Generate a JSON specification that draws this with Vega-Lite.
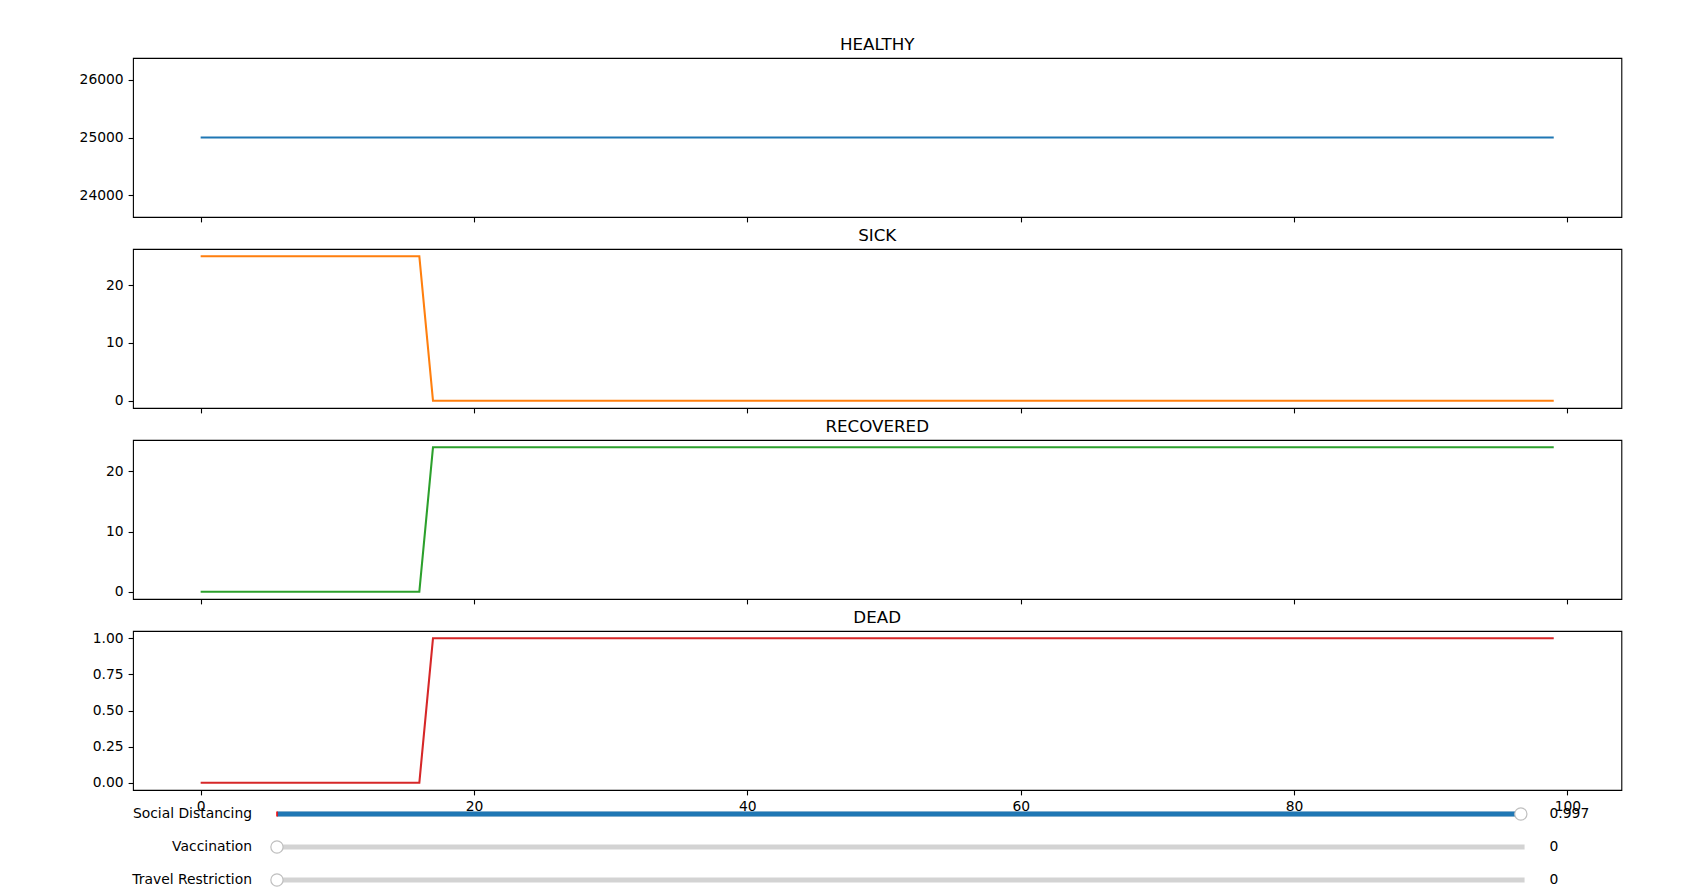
{
  "$schema": "https://vega.github.io/schema/vega-lite/v6.json",
  "background": "white",
  "padding": {"left": 78, "top": 36, "right": 20, "bottom": 0},
  "config": {
    "font": "DejaVu Sans",
    "view": {"stroke": "black", "strokeWidth": 1.1},
    "axis": {
      "domain": false, "grid": false, "tickColor": "black", "tickWidth": 1.1, "tickSize": 4.9,
      "labelFont": "DejaVu Sans", "labelFontSize": 13.9, "labelColor": "black", "labelPadding": 4.9,
      "labelOverlap": false, "labelFlush": false, "labelBound": false
    },
    "title": {"font": "DejaVu Sans", "fontSize": 16.7, "fontWeight": "normal", "color": "black", "anchor": "middle", "frame": "group", "baseline": "alphabetic", "offset": 4}
  },
  "datasets": {
    "series": [
      {"t":0,"h":25000,"s":25,"r":0,"d":0},{"t":1,"h":25000,"s":25,"r":0,"d":0},{"t":2,"h":25000,"s":25,"r":0,"d":0},{"t":3,"h":25000,"s":25,"r":0,"d":0},{"t":4,"h":25000,"s":25,"r":0,"d":0},
      {"t":5,"h":25000,"s":25,"r":0,"d":0},{"t":6,"h":25000,"s":25,"r":0,"d":0},{"t":7,"h":25000,"s":25,"r":0,"d":0},{"t":8,"h":25000,"s":25,"r":0,"d":0},{"t":9,"h":25000,"s":25,"r":0,"d":0},
      {"t":10,"h":25000,"s":25,"r":0,"d":0},{"t":11,"h":25000,"s":25,"r":0,"d":0},{"t":12,"h":25000,"s":25,"r":0,"d":0},{"t":13,"h":25000,"s":25,"r":0,"d":0},{"t":14,"h":25000,"s":25,"r":0,"d":0},
      {"t":15,"h":25000,"s":25,"r":0,"d":0},{"t":16,"h":25000,"s":25,"r":0,"d":0},{"t":17,"h":25000,"s":0,"r":24,"d":1},{"t":18,"h":25000,"s":0,"r":24,"d":1},{"t":19,"h":25000,"s":0,"r":24,"d":1},
      {"t":20,"h":25000,"s":0,"r":24,"d":1},{"t":21,"h":25000,"s":0,"r":24,"d":1},{"t":22,"h":25000,"s":0,"r":24,"d":1},{"t":23,"h":25000,"s":0,"r":24,"d":1},{"t":24,"h":25000,"s":0,"r":24,"d":1},
      {"t":25,"h":25000,"s":0,"r":24,"d":1},{"t":26,"h":25000,"s":0,"r":24,"d":1},{"t":27,"h":25000,"s":0,"r":24,"d":1},{"t":28,"h":25000,"s":0,"r":24,"d":1},{"t":29,"h":25000,"s":0,"r":24,"d":1},
      {"t":30,"h":25000,"s":0,"r":24,"d":1},{"t":31,"h":25000,"s":0,"r":24,"d":1},{"t":32,"h":25000,"s":0,"r":24,"d":1},{"t":33,"h":25000,"s":0,"r":24,"d":1},{"t":34,"h":25000,"s":0,"r":24,"d":1},
      {"t":35,"h":25000,"s":0,"r":24,"d":1},{"t":36,"h":25000,"s":0,"r":24,"d":1},{"t":37,"h":25000,"s":0,"r":24,"d":1},{"t":38,"h":25000,"s":0,"r":24,"d":1},{"t":39,"h":25000,"s":0,"r":24,"d":1},
      {"t":40,"h":25000,"s":0,"r":24,"d":1},{"t":41,"h":25000,"s":0,"r":24,"d":1},{"t":42,"h":25000,"s":0,"r":24,"d":1},{"t":43,"h":25000,"s":0,"r":24,"d":1},{"t":44,"h":25000,"s":0,"r":24,"d":1},
      {"t":45,"h":25000,"s":0,"r":24,"d":1},{"t":46,"h":25000,"s":0,"r":24,"d":1},{"t":47,"h":25000,"s":0,"r":24,"d":1},{"t":48,"h":25000,"s":0,"r":24,"d":1},{"t":49,"h":25000,"s":0,"r":24,"d":1},
      {"t":50,"h":25000,"s":0,"r":24,"d":1},{"t":51,"h":25000,"s":0,"r":24,"d":1},{"t":52,"h":25000,"s":0,"r":24,"d":1},{"t":53,"h":25000,"s":0,"r":24,"d":1},{"t":54,"h":25000,"s":0,"r":24,"d":1},
      {"t":55,"h":25000,"s":0,"r":24,"d":1},{"t":56,"h":25000,"s":0,"r":24,"d":1},{"t":57,"h":25000,"s":0,"r":24,"d":1},{"t":58,"h":25000,"s":0,"r":24,"d":1},{"t":59,"h":25000,"s":0,"r":24,"d":1},
      {"t":60,"h":25000,"s":0,"r":24,"d":1},{"t":61,"h":25000,"s":0,"r":24,"d":1},{"t":62,"h":25000,"s":0,"r":24,"d":1},{"t":63,"h":25000,"s":0,"r":24,"d":1},{"t":64,"h":25000,"s":0,"r":24,"d":1},
      {"t":65,"h":25000,"s":0,"r":24,"d":1},{"t":66,"h":25000,"s":0,"r":24,"d":1},{"t":67,"h":25000,"s":0,"r":24,"d":1},{"t":68,"h":25000,"s":0,"r":24,"d":1},{"t":69,"h":25000,"s":0,"r":24,"d":1},
      {"t":70,"h":25000,"s":0,"r":24,"d":1},{"t":71,"h":25000,"s":0,"r":24,"d":1},{"t":72,"h":25000,"s":0,"r":24,"d":1},{"t":73,"h":25000,"s":0,"r":24,"d":1},{"t":74,"h":25000,"s":0,"r":24,"d":1},
      {"t":75,"h":25000,"s":0,"r":24,"d":1},{"t":76,"h":25000,"s":0,"r":24,"d":1},{"t":77,"h":25000,"s":0,"r":24,"d":1},{"t":78,"h":25000,"s":0,"r":24,"d":1},{"t":79,"h":25000,"s":0,"r":24,"d":1},
      {"t":80,"h":25000,"s":0,"r":24,"d":1},{"t":81,"h":25000,"s":0,"r":24,"d":1},{"t":82,"h":25000,"s":0,"r":24,"d":1},{"t":83,"h":25000,"s":0,"r":24,"d":1},{"t":84,"h":25000,"s":0,"r":24,"d":1},
      {"t":85,"h":25000,"s":0,"r":24,"d":1},{"t":86,"h":25000,"s":0,"r":24,"d":1},{"t":87,"h":25000,"s":0,"r":24,"d":1},{"t":88,"h":25000,"s":0,"r":24,"d":1},{"t":89,"h":25000,"s":0,"r":24,"d":1},
      {"t":90,"h":25000,"s":0,"r":24,"d":1},{"t":91,"h":25000,"s":0,"r":24,"d":1},{"t":92,"h":25000,"s":0,"r":24,"d":1},{"t":93,"h":25000,"s":0,"r":24,"d":1},{"t":94,"h":25000,"s":0,"r":24,"d":1},
      {"t":95,"h":25000,"s":0,"r":24,"d":1},{"t":96,"h":25000,"s":0,"r":24,"d":1},{"t":97,"h":25000,"s":0,"r":24,"d":1},{"t":98,"h":25000,"s":0,"r":24,"d":1},{"t":99,"h":25000,"s":0,"r":24,"d":1}
    ],
    "sliders": [
      {"name": "Social Distancing", "vmin": 0, "vmax": 1, "value": 0.997, "valinit": 0, "label": "0.997"},
      {"name": "Vaccination", "vmin": 0, "vmax": 1, "value": 0, "valinit": 0, "label": "0"},
      {"name": "Travel Restriction", "vmin": 0, "vmax": 1, "value": 0, "valinit": 0, "label": "0"}
    ]
  },
  "vconcat": [
    {
      "title": "HEALTHY",
      "width": 1488.4, "height": 159,
      "data": {"name": "series"},
      "mark": {"type": "line", "color": "#1f77b4", "strokeWidth": 2.08},
      "encoding": {
        "x": {"field": "t", "type": "quantitative", "title": null, "scale": {"domain": [-4.95, 103.95], "nice": false, "zero": false}, "axis": {"values": [0, 20, 40, 60, 80, 100], "labels": false}},
        "y": {"field": "h", "type": "quantitative", "title": null, "scale": {"domain": [23625, 26375], "nice": false, "zero": false}, "axis": {"values": [24000, 25000, 26000], "format": "d"}}
      }
    },
    {
      "title": "SICK",
      "width": 1488.4, "height": 159,
      "data": {"name": "series"},
      "mark": {"type": "line", "color": "#ff7f0e", "strokeWidth": 2.08},
      "encoding": {
        "x": {"field": "t", "type": "quantitative", "title": null, "scale": {"domain": [-4.95, 103.95], "nice": false, "zero": false}, "axis": {"values": [0, 20, 40, 60, 80, 100], "labels": false}},
        "y": {"field": "s", "type": "quantitative", "title": null, "scale": {"domain": [-1.25, 26.25], "nice": false, "zero": false}, "axis": {"values": [0, 10, 20], "format": "d"}}
      }
    },
    {
      "title": "RECOVERED",
      "width": 1488.4, "height": 159,
      "data": {"name": "series"},
      "mark": {"type": "line", "color": "#2ca02c", "strokeWidth": 2.08},
      "encoding": {
        "x": {"field": "t", "type": "quantitative", "title": null, "scale": {"domain": [-4.95, 103.95], "nice": false, "zero": false}, "axis": {"values": [0, 20, 40, 60, 80, 100], "labels": false}},
        "y": {"field": "r", "type": "quantitative", "title": null, "scale": {"domain": [-1.2, 25.2], "nice": false, "zero": false}, "axis": {"values": [0, 10, 20], "format": "d"}}
      }
    },
    {
      "title": "DEAD",
      "width": 1488.4, "height": 159,
      "data": {"name": "series"},
      "mark": {"type": "line", "color": "#d62728", "strokeWidth": 2.08},
      "encoding": {
        "x": {"field": "t", "type": "quantitative", "title": null, "scale": {"domain": [-4.95, 103.95], "nice": false, "zero": false}, "axis": {"values": [0, 20, 40, 60, 80, 100], "format": "d"}},
        "y": {"field": "d", "type": "quantitative", "title": null, "scale": {"domain": [-0.05, 1.05], "nice": false, "zero": false}, "axis": {"values": [0, 0.25, 0.5, 0.75, 1], "format": ".2f"}}
      }
    },
    {
      "width": 1488.4, "height": 60,
      "data": {"name": "sliders"},
      "view": {"stroke": null},
      "encoding": {
        "y": {"field": "name", "type": "nominal", "sort": null, "title": null, "scale": {"type": "point", "padding": 0, "range": [-8, 58]}, "axis": null}
      },
      "layer": [
        {
          "mark": {"type": "rule", "color": "#d3d3d3", "strokeWidth": 5},
          "encoding": {
            "x": {"field": "vmin", "type": "quantitative", "title": null, "scale": {"domain": [-0.1154, 1.0776], "nice": false, "zero": false}, "axis": null},
            "x2": {"field": "vmax"}
          }
        },
        {
          "mark": {"type": "rule", "color": "#1f77b4", "strokeWidth": 5},
          "encoding": {
            "x": {"field": "vmin", "type": "quantitative"},
            "x2": {"field": "value"}
          }
        },
        {
          "mark": {"type": "tick", "color": "red", "orient": "vertical", "size": 5, "thickness": 1.5, "opacity": 1},
          "encoding": {
            "x": {"field": "valinit", "type": "quantitative"}
          }
        },
        {
          "mark": {"type": "point", "shape": "circle", "filled": true, "color": "white", "stroke": "#bfbfbf", "strokeWidth": 1.2, "size": 150, "opacity": 1},
          "encoding": {
            "x": {"field": "value", "type": "quantitative"}
          }
        },
        {
          "mark": {"type": "text", "align": "right", "baseline": "middle", "font": "DejaVu Sans", "fontSize": 13.9, "color": "black"},
          "encoding": {
            "x": {"datum": -0.02, "type": "quantitative"},
            "text": {"field": "name"}
          }
        },
        {
          "mark": {"type": "text", "align": "left", "baseline": "middle", "font": "DejaVu Sans", "fontSize": 13.9, "color": "black"},
          "encoding": {
            "x": {"datum": 1.02, "type": "quantitative"},
            "text": {"field": "label"}
          }
        }
      ]
    }
  ],
  "spacing": 32,
  "bounds": "flush",
  "resolve": {"scale": {"x": "independent", "y": "independent"}}
}
